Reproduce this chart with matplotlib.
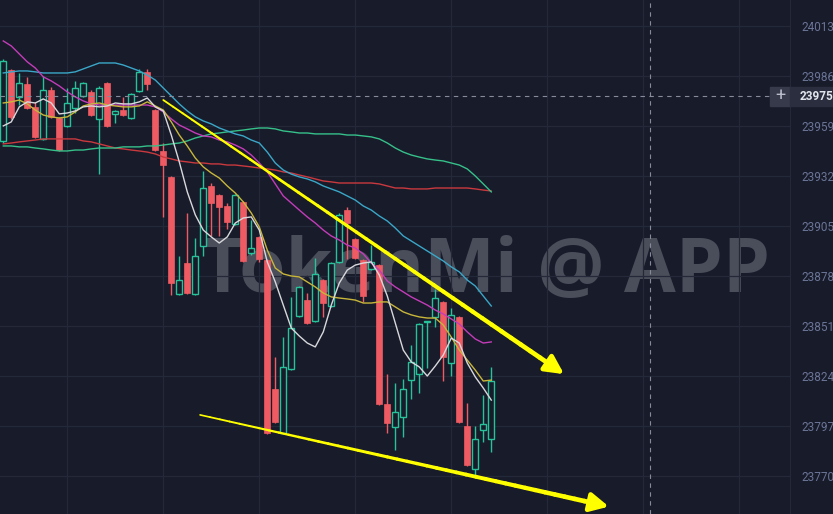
import numpy as np
import matplotlib.pyplot as plt
from matplotlib.collections import LineCollection
from matplotlib.patches import Rectangle

plt.rcParams['font.family'] = ['Roboto', 'DejaVu Sans']

# velas (precios)
opens = [23950.9, 23989.2, 23974.7, 23981.7, 23969.3, 23952.0, 23978.4, 23963.3, 23959.0, 23968.7,
         23975.2, 23977.4, 23962.8, 23982.2, 23965.5, 23967.6, 23963.3, 23977.9, 23988.2, 23967.6,
         23945.5, 23931.5, 23868.3, 23885.0, 23868.3, 23894.2, 23926.6, 23921.7, 23915.8, 23906.1,
         23918.0, 23890.4, 23899.1, 23886.6, 23817.0, 23793.2, 23827.8, 23856.4, 23865.0, 23853.7,
         23875.8, 23861.8, 23885.6, 23913.6, 23898.0, 23886.6, 23881.8, 23883.9, 23808.9, 23796.5,
         23801.9, 23821.8, 23825.1, 23852.9, 23855.9, 23863.9, 23831.0, 23855.9, 23797.0, 23773.8,
         23794.8, 23790.0]
highs = [23995.0, 23990.0, 23987.6, 23985.5, 23971.9, 23986.0, 23980.1, 23964.0, 23979.5, 23983.3,
         23982.8, 23978.4, 23980.6, 23982.8, 23967.5, 23974.7, 23976.8, 23989.8, 23989.8, 23968.2,
         23949.8, 23932.0, 23888.8, 23912.0, 23898.5, 23934.7, 23928.2, 23922.2, 23917.4, 23922.2,
         23918.5, 23908.2, 23899.6, 23887.1, 23834.3, 23845.0, 23866.7, 23872.6, 23868.8, 23887.7,
         23876.3, 23885.5, 23912.0, 23915.3, 23898.5, 23887.1, 23894.7, 23884.4, 23825.1, 23820.2,
         23822.4, 23840.9, 23852.6, 23853.5, 23871.0, 23864.4, 23860.7, 23856.4, 23809.4, 23797.0,
         23813.7, 23828.8]
lows = [23950.0, 23963.0, 23970.3, 23968.0, 23952.5, 23951.4, 23963.5, 23945.5, 23958.5, 23966.0,
        23974.7, 23964.4, 23933.0, 23958.5, 23960.6, 23964.4, 23962.8, 23977.4, 23978.4, 23945.5,
        23909.9, 23867.7, 23867.8, 23868.3, 23867.8, 23888.8, 23899.6, 23899.6, 23903.4, 23905.6,
        23885.6, 23889.3, 23885.6, 23792.7, 23798.7, 23792.7, 23827.3, 23855.9, 23852.1, 23853.2,
        23855.9, 23861.3, 23885.1, 23887.2, 23887.2, 23864.0, 23881.3, 23808.4, 23793.2, 23784.0,
        23791.1, 23811.6, 23814.8, 23828.3, 23850.5, 23821.3, 23824.0, 23798.7, 23775.4, 23769.5,
        23788.4, 23783.0]
closes = [23994.1, 23963.9, 23982.2, 23968.7, 23953.1, 23978.4, 23963.9, 23946.0, 23971.4, 23979.5,
          23982.2, 23964.9, 23979.5, 23959.0, 23967.1, 23964.9, 23976.3, 23988.2, 23981.7, 23946.0,
          23937.9, 23874.2, 23875.8, 23868.8, 23888.8, 23925.5, 23917.4, 23915.3, 23907.2, 23921.7,
          23886.1, 23893.1, 23887.2, 23793.2, 23799.2, 23828.9, 23849.9, 23872.1, 23852.6, 23879.1,
          23863.4, 23885.0, 23911.0, 23906.6, 23887.7, 23867.2, 23885.6, 23808.9, 23798.6, 23804.6,
          23817.0, 23831.6, 23852.1, 23853.2, 23866.1, 23834.3, 23857.0, 23799.2, 23775.9, 23790.0,
          23798.1, 23821.3]

# medias moviles
ma_blanca = [23959.0, 23961.2, 23969.3, 23972.0, 23971.4, 23973.6, 23971.4, 23965.5, 23966.0, 23967.1,
             23969.3, 23969.8, 23969.3, 23969.8, 23971.4, 23970.9, 23970.9, 23972.0, 23974.1, 23969.3,
             23967.1, 23954.1, 23939.6, 23923.4, 23911.0, 23902.8, 23899.1, 23895.8, 23899.1, 23906.6,
             23909.3, 23909.9, 23902.8, 23885.6, 23874.8, 23862.3, 23849.9, 23845.6, 23841.8, 23839.7,
             23847.8, 23862.3, 23874.2, 23881.2, 23883.9, 23885.0, 23885.6, 23878.5, 23867.2, 23852.6,
             23838.0, 23831.6, 23828.9, 23824.0, 23829.4, 23835.3, 23844.5, 23841.8, 23831.0, 23823.5,
             23817.5, 23811.0]
ma_amarilla = [23971.4, 23972.0, 23973.0, 23970.9, 23967.6, 23964.9, 23963.9, 23963.3, 23963.9, 23966.6,
               23969.8, 23970.9, 23971.4, 23970.3, 23969.8, 23969.3, 23969.3, 23969.8, 23972.0, 23969.8,
               23967.6, 23961.2, 23954.1, 23948.2, 23941.7, 23936.9, 23933.6, 23930.9, 23926.6, 23922.8,
               23918.0, 23912.0, 23904.5, 23892.0, 23882.3, 23879.1, 23878.0, 23877.5, 23874.8, 23872.1,
               23868.8, 23866.7, 23866.1, 23865.6, 23865.0, 23863.4, 23863.4, 23864.0, 23864.0, 23861.3,
               23858.6, 23857.0, 23855.9, 23855.3, 23855.3, 23851.5, 23845.0, 23838.0, 23832.6, 23827.2,
               23821.3, 23821.8]
ma_magenta = [24004.9, 24002.2, 23997.9, 23993.6, 23990.3, 23985.5, 23983.3, 23980.6, 23977.4, 23974.7,
              23972.5, 23970.9, 23970.3, 23970.3, 23970.3, 23970.3, 23970.3, 23970.3, 23970.3, 23969.3,
              23966.6, 23962.8, 23959.5, 23957.4, 23955.2, 23953.6, 23953.1, 23951.4, 23950.4, 23948.7,
              23946.6, 23943.3, 23939.0, 23934.2, 23927.7, 23921.2, 23917.4, 23913.6, 23909.9, 23906.6,
              23902.8, 23899.6, 23897.4, 23894.7, 23893.1, 23889.9, 23885.0, 23881.2, 23875.3, 23872.1,
              23869.4, 23866.7, 23864.5, 23862.3, 23859.6, 23857.5, 23854.8, 23852.1, 23847.8, 23844.0,
              23841.8, 23842.4]
ma_cian = [23987.6, 23988.2, 23988.7, 23988.7, 23988.2, 23987.6, 23987.6, 23987.6, 23987.6, 23988.2,
           23989.8, 23991.4, 23993.0, 23993.0, 23993.0, 23991.9, 23990.3, 23988.7, 23986.5, 23983.8,
           23979.5, 23975.2, 23970.9, 23967.1, 23963.9, 23961.7, 23960.1, 23957.9, 23956.3, 23954.7,
           23953.6, 23951.4, 23949.8, 23944.9, 23939.0, 23935.2, 23933.0, 23931.5, 23930.4, 23928.8,
           23926.6, 23925.0, 23923.4, 23921.2, 23919.0, 23915.8, 23913.6, 23910.4, 23907.7, 23903.9,
           23899.6, 23896.9, 23894.2, 23891.5, 23888.8, 23886.1, 23882.9, 23880.2, 23875.8, 23872.6,
           23867.2, 23861.8]
ma_verde = [23948.2, 23948.2, 23947.7, 23947.7, 23947.1, 23946.6, 23946.0, 23945.5, 23945.5, 23946.0,
            23946.0, 23946.6, 23947.1, 23947.1, 23947.1, 23947.7, 23947.7, 23947.7, 23948.2, 23948.2,
            23948.7, 23949.3, 23949.8, 23950.9, 23952.5, 23953.6, 23954.7, 23955.2, 23955.8, 23956.3,
            23956.8, 23957.4, 23957.9, 23957.9, 23957.4, 23956.3, 23955.8, 23955.2, 23955.2, 23954.7,
            23954.7, 23954.7, 23954.7, 23954.1, 23954.1, 23953.6, 23953.1, 23952.0, 23949.8, 23947.1,
            23944.9, 23943.3, 23942.2, 23941.2, 23940.6, 23940.1, 23939.0, 23937.9, 23935.8, 23932.0,
            23927.7, 23923.4]
ma_roja = [23949.3, 23949.8, 23950.4, 23950.9, 23951.4, 23952.0, 23952.0, 23952.0, 23952.0, 23952.0,
           23950.9, 23950.4, 23949.3, 23948.2, 23947.1, 23946.6, 23946.0, 23945.5, 23944.9, 23943.9,
           23942.2, 23941.2, 23940.1, 23939.6, 23939.0, 23939.0, 23938.5, 23938.5, 23937.9, 23937.9,
           23937.4, 23936.9, 23936.3, 23935.8, 23935.2, 23934.2, 23933.6, 23932.5, 23931.5, 23930.4,
           23929.3, 23928.8, 23928.2, 23928.2, 23928.2, 23928.2, 23928.2, 23927.7, 23926.6, 23925.5,
           23925.5, 23925.0, 23925.0, 23925.0, 23925.5, 23925.5, 23925.5, 23925.5, 23925.5, 23925.0,
           23924.4, 23923.9]

precios_eje = [23770, 23797, 23824, 23851, 23878, 23905, 23932, 23959, 23986, 24013]
precio_cursor = 23975
vela_cursor = 80.84

# lineas de tendencia dibujadas a mano (indice de vela, precio)
tendencia_sup = [(20.0, 23973.0), (70.1, 23825.0)]
tendencia_inf = [(24.6, 23803.0), (75.7, 23753.5)]

fondo = '#181b2a'
verde = '#27c29a'
rojo = '#ef5b62'
rejilla = '#242939'

fig = plt.figure(figsize=(8.33, 5.14), dpi=100, facecolor=fondo)
ax = fig.add_axes([0, 0, 790 / 833, 1])
ax.set_facecolor(fondo)

x = np.arange(len(opens))

# marca de agua
ax.text(60.3, 23880, 'TokenMi @ APP', ha='center', va='center', fontsize=54,
        fontweight='bold', family='Open Sans', color='#4a4d5a', zorder=0.5)

# velas
ancho = 0.7
for i in x:
    o, h, l, c = opens[i], highs[i], lows[i], closes[i]
    col = verde if c >= o else rojo
    ax.vlines(i, l, h, color=col, lw=1, zorder=2)
    abajo = min(o, c)
    alto = max(abs(c - o), 0.6)
    if c >= o:
        ax.add_patch(Rectangle((i - ancho / 2, abajo), ancho, alto, facecolor=fondo,
                               edgecolor=col, lw=1, zorder=2.5))
    else:
        ax.add_patch(Rectangle((i - ancho / 2, abajo), ancho, alto, facecolor=col,
                               edgecolor=col, lw=0.5, zorder=2.5))

# medias
ax.plot(x, ma_roja, color='#c9393e', lw=1, zorder=3)
ax.plot(x, ma_verde, color='#36c08a', lw=1, zorder=3)
ax.plot(x, ma_cian, color='#3aa7c8', lw=1, zorder=3)
ax.plot(x, ma_magenta, color='#c43cb9', lw=1, zorder=3)
ax.plot(x, ma_amarilla, color='#c8b63a', lw=1, zorder=3)
ax.plot(x, ma_blanca, color='#d8d8dc', lw=1, zorder=3)

# tendencias amarillas con flecha
for (x0, y0), (x1, y1), w0, w1 in [(tendencia_sup[0], tendencia_sup[1], 1.3, 3.4),
                                   (tendencia_inf[0], tendencia_inf[1], 1.2, 3.4)]:
    t = np.linspace(0, 0.94, 40)
    px = x0 + (x1 - x0) * t
    py = y0 + (y1 - y0) * t
    segs = np.stack([np.column_stack([px[:-1], py[:-1]]),
                     np.column_stack([px[1:], py[1:]])], axis=1)
    ax.add_collection(LineCollection(segs, linewidths=np.linspace(w0, w1, len(segs)),
                                     colors='#ffff00', capstyle='round', zorder=4))
    ax.annotate('', xy=(x1, y1), xytext=(px[-1], py[-1]),
                arrowprops=dict(arrowstyle='-|>,head_length=0.55,head_width=0.28',
                                color='#ffff00', lw=3.4, shrinkA=0, shrinkB=0,
                                mutation_scale=20), zorder=4)

# cursor
ax.axhline(precio_cursor, xmin=0, xmax=770 / 790, color='#868b9c', lw=0.8,
           dashes=(4, 4), zorder=5)
ax.axvline(vela_cursor, color='#868b9c', lw=0.8, dashes=(4, 4), zorder=5)

ax.set_xlim(-0.41, 98.34)
ax.set_ylim(23749.5, 24027.0)
ax.set_xticks([8, 20, 32, 44, 56, 68, 80, 92])
ax.set_yticks(precios_eje)
ax.grid(True, color=rejilla, lw=0.9)
ax.set_axisbelow(True)
ax.tick_params(axis='x', length=0, labelbottom=False)
ax.yaxis.tick_right()
ax.tick_params(axis='y', length=0, pad=8, labelcolor='#6b7597', labelsize=8.5)
for s in ['top', 'bottom', 'left']:
    ax.spines[s].set_visible(False)
ax.spines['right'].set_color(rejilla)

# etiqueta del cursor
ycur = 1 - 96 / 514
fig.patches.append(Rectangle((770 / 833, ycur - 9.5 / 514), 20 / 833, 19 / 514,
                             transform=fig.transFigure, color='#363a4a', zorder=6))
fig.patches.append(Rectangle((790 / 833, ycur - 9.5 / 514), 43 / 833, 19 / 514,
                             transform=fig.transFigure, color='#2a2e3e', zorder=6))
fig.text(780 / 833, ycur, '+', color='#b8bccb', fontsize=13, ha='center', va='center',
         zorder=7)
fig.text(800 / 833, ycur, str(precio_cursor), color='#e2e5ee', fontsize=8.5,
         fontweight='bold', ha='left', va='center', zorder=7)

plt.savefig('out.png', dpi=100, facecolor=fondo)
